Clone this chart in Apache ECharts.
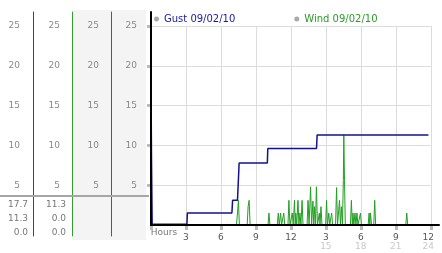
<!DOCTYPE html>
<html><head><meta charset="utf-8">
<script src="https://cdn.jsdelivr.net/npm/echarts@6/dist/echarts.min.js"></script>
<style>html,body{margin:0;padding:0;background:#fff}#c{width:442px;height:253px}</style>
</head><body><div id="c"></div>
<script>
// ---- data ----
const hourTicks = [0, 3, 6, 9, 12, 15, 18, 21, 24];
const hourLabels = ['', '3', '6', '9', '12', '3', '6', '9', '12'];
const hour24Labels = ['', '', '', '', '', '15', '18', '21', '24'];
const speedTicks = [5, 10, 15, 20, 25];
const gustName = 'Gust 09/02/10';
const windName = 'Wind 09/02/10';
const gustHours = [0, 0.04, 0.1, 3.08, 3.12, 6.94, 7.0, 7.42, 7.56, 9.98, 10.02, 14.2, 14.25, 23.8];
const gustSpeed = [17.7, 8.8, 0.1, 0.1, 1.5, 1.5, 3.1, 3.1, 7.8, 7.8, 9.6, 9.6, 11.3, 11.3];
const windHours = [0, 7.33, 7.42, 7.5, 7.58, 8.25, 8.33, 8.42, 8.5, 10.04, 10.12, 10.2,
  10.83, 10.92, 11.0, 11.12, 11.2, 11.31, 11.39, 11.47, 11.75, 11.83, 11.92,
  12.04, 12.12, 12.2, 12.31, 12.37, 12.42, 12.5, 12.61, 12.69, 12.78, 12.86, 12.96, 13.04,
  13.39, 13.47, 13.56, 13.69, 13.78, 13.89, 13.96, 14.03, 14.11, 14.19, 14.28,
  14.36, 14.44, 14.5, 14.58, 14.67, 14.98, 15.06, 15.14, 15.25, 15.33, 15.42, 15.5, 15.58,
  15.83, 15.92, 16.0, 16.17, 16.25, 16.33, 16.42, 16.5, 16.54, 16.6, 16.67,
  17.11, 17.19, 17.27, 17.33, 17.4, 17.5, 17.58, 17.67, 17.75, 17.89, 17.97, 18.05,
  18.63, 18.71, 18.77, 18.83, 18.92, 19.11, 19.19, 19.27, 21.86, 21.94, 22.02, 23.8];
const windSpeed = [0, 0, 1.5, 3.1, 0, 0, 2.3, 3.1, 0, 0, 1.5, 0,
  0, 1.5, 0, 1.5, 0, 0, 1.5, 0, 0, 3.1, 0,
  0, 1.5, 0, 3.1, 0, 1.5, 0, 3.1, 0, 1.5, 0, 3.1, 0,
  0, 3.1, 0, 4.8, 0, 3.0, 0, 2.3, 0, 4.8, 0,
  0, 1.5, 0, 2.3, 0, 0, 3.1, 0, 1.5, 0, 0, 1.5, 0,
  0, 4.7, 0, 3.1, 0, 2.3, 0, 5.6, 11.3, 5.6, 0,
  0, 3.1, 0, 1.5, 0, 1.5, 0, 1.5, 0, 0, 1.5, 0,
  0, 1.5, 0, 1.5, 0, 0, 3.1, 0, 0, 1.5, 0, 0];
const gustStats = [17.7, 11.3, 0.0];
const windStats = [11.3, 0.0, 0.0];

// ---- chart ----
const FONT = '"DejaVu Sans", Verdana, sans-serif';
const zip = (a, b) => a.map((v, i) => [v, b[i]]);
const chart = echarts.init(document.getElementById('c'), null, {renderer: 'canvas'});

const statTexts = [];
gustStats.forEach((v, i) => statTexts.push({type: 'text', z: 5,
  style: {text: v.toFixed(1), x: 28, y: 205 + 13.7 * i, textAlign: 'right', textVerticalAlign: 'middle',
    font: '9px ' + FONT, fill: '#777'}}));
windStats.forEach((v, i) => statTexts.push({type: 'text', z: 5,
  style: {text: v.toFixed(1), x: 66, y: 205 + 13.7 * i, textAlign: 'right', textVerticalAlign: 'middle',
    font: '9px ' + FONT, fill: '#777'}}));

const colAxis = (offset, color, margin) => ({
  gridIndex: 1, type: 'value', position: 'left', min: -1.382, max: 26.759, offset: offset,
  axisLine: {show: true, lineStyle: {color: color, width: 1}},
  axisTick: {show: false}, splitLine: {show: false},
  axisLabel: {customValues: speedTicks, margin: margin, color: '#888', fontSize: 9, fontFamily: FONT}
});

const option = {
  animation: false,
  backgroundColor: '#fff',
  textStyle: {fontFamily: FONT},
  graphic: [
    {type: 'rect', z: -1, shape: {x: 73, y: 10, width: 73, height: 230}, style: {fill: '#f4f4f4'}},
    {type: 'line', z: 4, shape: {x1: 0, y1: 196, x2: 149, y2: 196}, style: {stroke: '#a6a6a6', lineWidth: 2}}
  ].concat(statTexts),
  legend: {
    left: 154, top: 14, padding: 0, itemWidth: 5, itemHeight: 5, itemGap: 59, icon: 'circle',
    selectedMode: false, itemStyle: {color: '#aaa'},
    textStyle: {fontSize: 10, fontFamily: FONT},
    data: [{name: gustName, textStyle: {color: '#1a1a9a'}}, {name: windName, textStyle: {color: '#2a9a2a'}}]
  },
  grid: [
    {left: 151, right: 3, top: 26, bottom: 28},
    {left: 111, width: 38, top: 12, bottom: 17},
    {left: 151, right: 3, top: 12, bottom: 28}
  ],
  xAxis: [
    {gridIndex: 0, type: 'value', position: 'bottom', min: 0, max: 24, interval: 3,
      axisLine: {show: false},
      axisTick: {show: true, length: 5, lineStyle: {color: '#bbb', width: 3}},
      splitLine: {show: true, lineStyle: {color: '#dcdcdc', width: 1}},
      name: 'Hours', nameLocation: 'start', nameGap: -2,
      nameTextStyle: {align: 'left', verticalAlign: 'top', color: '#777', fontSize: 9, fontFamily: FONT, padding: [3, 0, 0, 0]},
      axisLabel: {margin: 8, verticalAlign: 'top', lineHeight: 9,
        formatter: (v) => {
          const i = hourTicks.indexOf(v);
          if (i <= 0) return '';
          if (i === hourTicks.length - 1) return '{a2|' + hourLabels[i] + '}\n{b2|' + hour24Labels[i] + '}';
          return hour24Labels[i] ? '{a|' + hourLabels[i] + '}\n{b|' + hour24Labels[i] + '}' : '{a|' + hourLabels[i] + '}';
        },
        rich: {
          a: {color: '#555', fontSize: 9, lineHeight: 9, fontFamily: FONT},
          b: {color: '#c8c8c8', fontSize: 9, lineHeight: 9, fontFamily: FONT},
          a2: {color: '#555', fontSize: 9, lineHeight: 9, fontFamily: FONT, padding: [0, 5, 0, 0]},
          b2: {color: '#c8c8c8', fontSize: 9, lineHeight: 9, fontFamily: FONT, padding: [0, 5, 0, 0]}
        }}
    },
    {gridIndex: 1, type: 'value', position: 'bottom', min: 0, max: 1, show: false},
    {gridIndex: 2, type: 'value', position: 'bottom', min: 0, max: 1, z: 5,
      axisLine: {show: true, lineStyle: {color: '#000', width: 2}},
      axisTick: {show: false}, axisLabel: {show: false}, splitLine: {show: false}}
  ],
  yAxis: [
    {gridIndex: 0, type: 'value', position: 'left', min: 0, max: 25, interval: 5, offset: 1,
      axisLine: {show: false},
      axisTick: {show: true, length: 4, customValues: speedTicks, lineStyle: {color: '#bbb', width: 3}},
      axisLabel: {customValues: speedTicks, margin: 13, color: '#888', fontSize: 9, fontFamily: FONT},
      splitLine: {show: true, lineStyle: {color: '#dcdcdc', width: 1}}},
    colAxis(0, '#b83030', 12),
    colAxis(39, '#34a034', 12),
    colAxis(78, '#2244aa', 13),
    {gridIndex: 2, type: 'value', position: 'left', min: 0, max: 1, offset: 2, z: 5,
      axisLine: {show: true, lineStyle: {color: '#000', width: 2}},
      axisTick: {show: false}, axisLabel: {show: false}, splitLine: {show: false}}
  ],
  series: [
    {name: windName, type: 'line', xAxisIndex: 0, yAxisIndex: 0, symbol: 'none', z: 2, clip: false,
      data: zip(windHours, windSpeed), lineStyle: {color: '#22a022', width: 1}, itemStyle: {color: '#22a022'}},
    {name: gustName, type: 'line', xAxisIndex: 0, yAxisIndex: 0, symbol: 'none', z: 3, clip: false,
      data: zip(gustHours, gustSpeed), lineStyle: {color: '#12128f', width: 1.5}, itemStyle: {color: '#12128f'}}
  ]
};
chart.setOption(option);
</script></body></html>
